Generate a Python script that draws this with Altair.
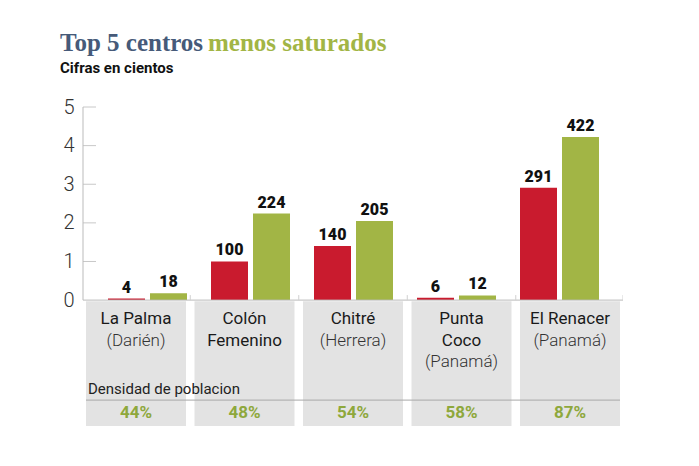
import altair as alt
import pandas as pd

# ---- data ----
centros = ["La Palma", "Colón", "Chitré", "Punta Coco", "El Renacer"]
label_lines = [
    ["La Palma", "(Darién)"],
    ["Colón", "Femenino"],
    ["Chitré", "(Herrera)"],
    ["Punta", "Coco", "(Panamá)"],
    ["El Renacer", "(Panamá)"],
]
serie_roja = [4, 100, 140, 6, 291]      # valores reales
serie_verde = [18, 224, 205, 12, 422]
densidad = ["44%", "48%", "54%", "58%", "87%"]
y_ticks = [0, 1, 2, 3, 4, 5]

# ---- colours / layout ----
RED = "#c91b2e"
GREEN = "#a2b545"
PCT_GREEN = "#8ea83c"
BOX = "#e3e3e3"
TITLE_BLUE = "#465a79"

W, H = 540, 319
Y_MIN, Y_MAX = -3.26, 5
BOX_STEP, BOX_W, BOX_X0 = 108.5, 100, 3
BAR_STEP, BAR_W, BAR_X0, BAR_GAP = 103, 37, 25, 42
unit = H / (Y_MAX - Y_MIN)

xs = alt.Scale(domain=[0, W], nice=False, zero=False)
ys = alt.Scale(domain=[Y_MIN, Y_MAX], nice=False, zero=False)
y_axis = alt.Axis(values=y_ticks, ticks=False, domain=False, grid=False,
                  labelFont="Roboto", labelFontSize=20, labelFontWeight=300,
                  labelColor="#333", labelPadding=9, title=None)


def X(f):
    return alt.X(f, scale=xs, axis=None)


def Y(f):
    return alt.Y(f, scale=ys, axis=y_axis)


bars = []
for i, c in enumerate(centros):
    left_r = BAR_X0 + i * BAR_STEP
    bars.append(dict(centro=c, serie="r", val=serie_roja[i] / 100, lab=str(serie_roja[i]),
                     x=left_r, x2=left_r + BAR_W, xc=left_r + BAR_W / 2))
    left_g = left_r + BAR_GAP
    bars.append(dict(centro=c, serie="g", val=serie_verde[i] / 100, lab=str(serie_verde[i]),
                     x=left_g, x2=left_g + BAR_W, xc=left_g + BAR_W / 2))
bars_df = pd.DataFrame(bars)

boxes = []
for i, c in enumerate(centros):
    l = BOX_X0 + i * BOX_STEP
    boxes.append(dict(centro=c, x=l, x2=l + BOX_W, xc=l + BOX_W / 2, pct=densidad[i],
                      y=-0.03, y2=Y_MIN, ypct=-113 / unit))
box_df = pd.DataFrame(boxes)

lines = []
for i, ls in enumerate(label_lines):
    xc = BOX_X0 + i * BOX_STEP + BOX_W / 2
    for j, t in enumerate(ls):
        lines.append(dict(xc=xc, t=t, y=-(19 + 21.5 * j) / unit, light=t.startswith("(")))
lines_df = pd.DataFrame(lines)

base_box = alt.Chart(box_df)
box_layer = base_box.mark_rect(color=BOX).encode(x=X("x:Q"), x2="x2:Q", y=Y("y:Q"), y2="y2:Q")

sep_line = alt.Chart(pd.DataFrame({"a": [BOX_X0], "b": [BOX_X0 + 4 * BOX_STEP + BOX_W],
                                   "y": [-100 / unit]})).mark_rule(color="#a8a8a8", strokeWidth=1).encode(
    x=X("a:Q"), x2="b:Q", y=Y("y:Q"))

pct_layer = base_box.mark_text(font="Roboto", fontSize=17, fontWeight="bold", color=PCT_GREEN,
                               baseline="middle").encode(x=X("xc:Q"), y=Y("ypct:Q"), text="pct:N")

dens = alt.Chart(pd.DataFrame({"x": [BOX_X0 + 2], "y": [-89 / unit], "t": ["Densidad de poblacion"]})).mark_text(
    font="Roboto", fontSize=15, align="left", baseline="middle", color="#222").encode(
    x=X("x:Q"), y=Y("y:Q"), text="t:N")

lab_reg = alt.Chart(lines_df).transform_filter("!datum.light").mark_text(
    font="Roboto", fontSize=17, color="#1a1a1a", baseline="middle").encode(
    x=X("xc:Q"), y=Y("y:Q"), text="t:N")
lab_light = alt.Chart(lines_df).transform_filter("datum.light").mark_text(
    font="Roboto", fontSize=17, fontWeight=300, color="#333", baseline="middle").encode(
    x=X("xc:Q"), y=Y("y:Q"), text="t:N")

bar_layer = alt.Chart(bars_df).mark_rect().encode(
    x=X("x:Q"), x2="x2:Q", y=Y("val:Q"), y2=alt.datum(0),
    color=alt.Color("serie:N", scale=alt.Scale(domain=["r", "g"], range=[RED, GREEN]), legend=None))

val_layer = alt.Chart(bars_df).mark_text(font="Roboto", fontSize=16, fontWeight=900, color="#111",
                                         baseline="alphabetic", dy=-6).encode(
    x=X("xc:Q"), y=Y("val:Q"), text="lab:N")

tick_df = pd.DataFrame({"v": y_ticks[1:]})
tick_layer = alt.Chart(tick_df).mark_rule(color="#c8c8c8", strokeWidth=1).encode(
    x=alt.value(0), x2=alt.value(13), y=Y("v:Q"))

vaxis = alt.Chart(pd.DataFrame({"a": [0], "b": [5]})).mark_rule(color="#bbbbbb").encode(
    x=alt.value(0), y=Y("a:Q"), y2="b:Q")
baseline = alt.Chart(pd.DataFrame({"y": [0]})).mark_rule(color="#bbbbbb").encode(
    x=alt.value(0), x2=alt.value(W), y=Y("y:Q"))

sep_x = [BOX_X0 + i * BOX_STEP + BOX_W + (BOX_STEP - BOX_W) / 2 for i in range(4)] + [W]
sep_ticks = alt.Chart(pd.DataFrame({"x": sep_x, "a": 0, "b": 0.13})).mark_rule(color="#d0d0d0").encode(
    x=X("x:Q"), y=Y("a:Q"), y2="b:Q")

title1 = alt.Chart(pd.DataFrame({"t": ["Top 5 centros"]})).mark_text(
    font="Liberation Serif", fontSize=25, fontWeight="bold", color=TITLE_BLUE,
    align="left", baseline="alphabetic").encode(x=alt.value(-23), y=alt.value(-56), text="t:N")
title2 = alt.Chart(pd.DataFrame({"t": ["menos saturados"]})).mark_text(
    font="Liberation Serif", fontSize=25, fontWeight="bold", color=GREEN,
    align="left", baseline="alphabetic").encode(x=alt.value(125), y=alt.value(-56), text="t:N")
subtitle = alt.Chart(pd.DataFrame({"t": ["Cifras en cientos"]})).mark_text(
    font="Roboto", fontSize=15, fontWeight="bold", color="#111",
    align="left", baseline="alphabetic").encode(x=alt.value(-23), y=alt.value(-34), text="t:N")

chart = alt.layer(
    box_layer, sep_line, pct_layer, dens, lab_reg, lab_light,
    bar_layer, val_layer, tick_layer, vaxis, baseline, sep_ticks,
    title1, title2, subtitle,
).properties(
    width=W, height=H,
    background="white",
    autosize=alt.AutoSizeParams(type="none"),
    padding={"left": 83, "top": 107, "right": 0, "bottom": 0},
).configure_view(strokeWidth=0, stroke="transparent")

chart.save("out.html", embed_options={"renderer": "svg", "actions": False})
